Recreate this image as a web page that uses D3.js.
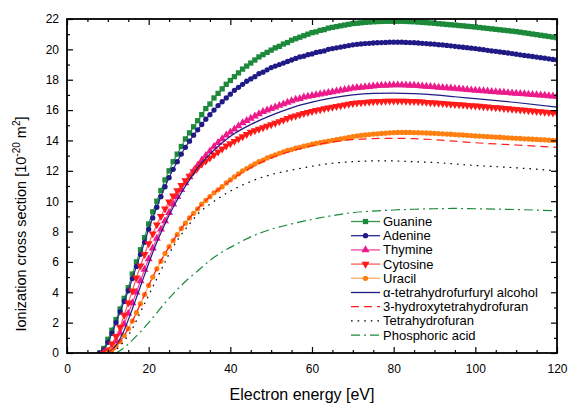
<!DOCTYPE html>
<html>
<head>
<meta charset="utf-8">
<script src="https://cdn.jsdelivr.net/npm/d3@7"></script>
<style>
	body { margin: 0; background: #fff; }
	text { font-family: "Liberation Sans", Arial, sans-serif; }
</style>
</head>
<body>
<div id="chart-area"></div>
<script>
// marker series, one value per eV starting at the given energy
var guanineStart = 8;
var guanine = [
	0, 0.3, 0.9, 1.5, 2.2, 2.9, 3.6, 4.3, 5.2, 6.0,
	6.8, 7.6, 8.5, 9.3, 10.0, 10.7, 11.4, 12.0, 12.6, 13.1,
	13.6, 14.1, 14.5, 14.9, 15.3, 15.7, 16.1, 16.4, 16.8, 17.1,
	17.4, 17.7, 17.95, 18.2, 18.45, 18.7, 18.9, 19.1, 19.3, 19.5,
	19.65, 19.8, 19.95, 20.1, 20.2, 20.35, 20.45, 20.6, 20.7, 20.8,
	20.9, 21.0, 21.1, 21.15, 21.25, 21.3, 21.4, 21.45, 21.5, 21.55,
	21.6, 21.65, 21.7, 21.72, 21.75, 21.78, 21.8, 21.82, 21.83, 21.84,
	21.85, 21.85, 21.85, 21.85, 21.85, 21.84, 21.83, 21.82, 21.8, 21.78,
	21.76, 21.74, 21.72, 21.69, 21.67, 21.64, 21.62, 21.6, 21.57, 21.55,
	21.52, 21.5, 21.47, 21.44, 21.41, 21.38, 21.35, 21.32, 21.29, 21.26,
	21.23, 21.2, 21.17, 21.13, 21.09, 21.05, 21.01, 20.97, 20.93, 20.89,
	20.85, 20.81, 20.77];

var adenineStart = 8;
var adenine = [
	0, 0.2, 0.7, 1.3, 2.0, 2.7, 3.4, 4.1, 4.9, 5.7,
	6.5, 7.3, 8.15, 8.9, 9.6, 10.3, 10.95, 11.55, 12.1, 12.6,
	13.1, 13.55, 13.95, 14.35, 14.7, 15.05, 15.4, 15.7, 16.0, 16.3,
	16.55, 16.8, 17.05, 17.3, 17.5, 17.7, 17.9, 18.05, 18.2, 18.4,
	18.5, 18.65, 18.8, 18.9, 19.0, 19.1, 19.2, 19.3, 19.4, 19.5,
	19.55, 19.65, 19.7, 19.8, 19.85, 19.9, 20.0, 20.05, 20.1, 20.15,
	20.2, 20.25, 20.3, 20.33, 20.36, 20.38, 20.4, 20.42, 20.44, 20.45,
	20.46, 20.47, 20.47, 20.47, 20.47, 20.46, 20.45, 20.44, 20.42, 20.4,
	20.38, 20.36, 20.34, 20.31, 20.29, 20.26, 20.23, 20.2, 20.17, 20.14,
	20.11, 20.08, 20.05, 20.01, 19.98, 19.94, 19.9, 19.87, 19.83, 19.8,
	19.76, 19.72, 19.68, 19.64, 19.6, 19.57, 19.53, 19.49, 19.45, 19.42,
	19.38, 19.34, 19.3];

var thymineStart = 9;
var thymine = [
	0, 0.1, 0.35, 0.8, 1.3, 1.9, 2.6, 3.3, 4.0, 4.75,
	5.5, 6.2, 6.9, 7.55, 8.15, 8.7, 9.25, 9.8, 10.3, 10.75,
	11.2, 11.6, 12.0, 12.35, 12.7, 13.0, 13.3, 13.6, 13.85, 14.1,
	14.35, 14.55, 14.75, 14.95, 15.15, 15.3, 15.45, 15.6, 15.75, 15.9,
	16.0, 16.1, 16.2, 16.3, 16.4, 16.5, 16.6, 16.7, 16.75, 16.85,
	16.9, 16.95, 17.0, 17.05, 17.1, 17.15, 17.2, 17.25, 17.3, 17.35,
	17.4, 17.45, 17.48, 17.5, 17.53, 17.55, 17.58, 17.6, 17.62, 17.63,
	17.64, 17.65, 17.65, 17.65, 17.64, 17.63, 17.62, 17.6, 17.58, 17.56,
	17.54, 17.52, 17.5, 17.48, 17.46, 17.44, 17.42, 17.39, 17.37, 17.35,
	17.32, 17.3, 17.28, 17.26, 17.24, 17.22, 17.2, 17.18, 17.16, 17.14,
	17.12, 17.1, 17.08, 17.06, 17.04, 17.02, 17.0, 16.98, 16.96, 16.94,
	16.92, 16.9];

var cytosineStart = 9;
var cytosine = [
	0, 0.2, 0.6, 1.1, 1.7, 2.5, 3.3, 4.1, 4.95, 5.75,
	6.5, 7.2, 7.85, 8.45, 9.0, 9.5, 9.95, 10.35, 10.7, 11.05,
	11.35, 11.65, 11.95, 12.2, 12.45, 12.65, 12.85, 13.05, 13.25, 13.45,
	13.65, 13.8, 13.95, 14.1, 14.25, 14.4, 14.55, 14.65, 14.75, 14.85,
	14.95, 15.05, 15.15, 15.25, 15.35, 15.45, 15.55, 15.62, 15.7, 15.78,
	15.85, 15.92, 15.98, 16.04, 16.1, 16.15, 16.2, 16.25, 16.3, 16.35,
	16.4, 16.45, 16.48, 16.5, 16.52, 16.54, 16.56, 16.57, 16.58, 16.59,
	16.6, 16.6, 16.6, 16.6, 16.59, 16.58, 16.57, 16.56, 16.54, 16.52,
	16.5, 16.48, 16.46, 16.44, 16.42, 16.4, 16.38, 16.36, 16.34, 16.32,
	16.3, 16.28, 16.26, 16.23, 16.21, 16.19, 16.17, 16.15, 16.12, 16.1,
	16.07, 16.05, 16.02, 16.0, 15.97, 15.95, 15.92, 15.9, 15.87, 15.85,
	15.82, 15.8];

var uracilStart = 10;
var uracil = [
	0, 0.2, 0.45, 0.75, 1.15, 1.6, 2.1, 2.65, 3.25, 3.85,
	4.45, 5.0, 5.55, 6.05, 6.55, 7.0, 7.4, 7.8, 8.2, 8.55,
	8.9, 9.2, 9.5, 9.8, 10.05, 10.3, 10.55, 10.75, 10.95, 11.2,
	11.4, 11.6, 11.8, 12.0, 12.15, 12.3, 12.45, 12.6, 12.7, 12.85,
	12.95, 13.05, 13.15, 13.25, 13.35, 13.4, 13.5, 13.55, 13.62, 13.68,
	13.75, 13.8, 13.85, 13.9, 13.95, 14.0, 14.05, 14.1, 14.15, 14.2,
	14.25, 14.3, 14.33, 14.36, 14.39, 14.42, 14.44, 14.46, 14.48, 14.5,
	14.52, 14.53, 14.53, 14.53, 14.53, 14.52, 14.51, 14.5, 14.49, 14.48,
	14.47, 14.45, 14.44, 14.42, 14.41, 14.39, 14.37, 14.36, 14.34, 14.32,
	14.3, 14.29, 14.27, 14.25, 14.24, 14.22, 14.21, 14.19, 14.17, 14.16,
	14.14, 14.13, 14.11, 14.1, 14.08, 14.07, 14.05, 14.04, 14.02, 14.01,
	14.0];

// line-only series
var thfaEnergy = [10, 12, 14, 16, 18, 20, 22, 24, 26, 28, 30, 32, 35, 38, 41, 45, 50, 55, 60, 65, 70, 75, 80, 85, 90, 95, 100, 110, 120];
var thfa = [0, 0.5, 1.5, 2.9, 4.4, 5.9, 7.3, 8.5, 9.6, 10.55, 11.4, 12.2, 13.1, 13.85, 14.45, 15.05, 15.65, 16.15, 16.52, 16.8, 17.0, 17.1, 17.12, 17.08, 17.0, 16.88, 16.75, 16.5, 16.2];

var hthfEnergy = [10, 12, 14, 16, 18, 20, 22, 24, 26, 28, 30, 32, 35, 38, 41, 45, 50, 55, 60, 65, 70, 75, 80, 85, 90, 95, 100, 110, 120];
var hthf = [0, 0.45, 1.15, 2.1, 3.25, 4.45, 5.55, 6.55, 7.4, 8.2, 8.9, 9.5, 10.3, 10.95, 11.55, 12.2, 12.85, 13.3, 13.65, 13.9, 14.05, 14.12, 14.14, 14.12, 14.05, 13.95, 13.85, 13.7, 13.55];

var thfEnergy = [11, 12, 14, 16, 18, 20, 22, 24, 26, 28, 30, 32, 35, 38, 41, 45, 50, 55, 60, 65, 70, 75, 80, 85, 90, 95, 100, 110, 120];
var thf = [0, 0.2, 0.8, 1.6, 2.7, 3.8, 4.9, 6.0, 7.0, 7.8, 8.5, 9.15, 9.8, 10.35, 10.8, 11.3, 11.75, 12.05, 12.3, 12.5, 12.6, 12.65, 12.65, 12.6, 12.55, 12.45, 12.35, 12.2, 12.0];

var phosEnergy = [12, 14, 16, 18, 20, 22, 24, 26, 28, 30, 32, 35, 38, 41, 45, 50, 55, 60, 65, 70, 75, 80, 85, 90, 95, 100, 110, 120];
var phos = [0, 0.35, 0.85, 1.4, 2.0, 2.65, 3.3, 3.9, 4.45, 4.95, 5.4, 6.1, 6.65, 7.1, 7.65, 8.15, 8.5, 8.8, 9.05, 9.25, 9.35, 9.42, 9.47, 9.5, 9.52, 9.5, 9.45, 9.37];

var legendNames = ["Guanine", "Adenine", "Thymine", "Cytosine", "Uracil",
	"\u03b1-tetrahydrofurfuryl alcohol", "3-hydroxytetrahydrofuran", "Tetrahydrofuran", "Phosphoric acid"];
var xTicks = [0, 20, 40, 60, 80, 100, 120];
var yTicks = [0, 2, 4, 6, 8, 10, 12, 14, 16, 18, 20, 22];

var W = 570, H = 403;
var margin = { top: 19, right: 13, bottom: 50, left: 67 };
var width = W - margin.left - margin.right;
var height = H - margin.top - margin.bottom;

var svg = d3.select("#chart-area")
	.append("svg")
	.attr("width", W)
	.attr("height", H)
	.append("g")
	.attr("transform", "translate(" + margin.left + ", " + margin.top + ")");

var xScale = d3.scaleLinear().domain([0, 120]).range([0, width]);
var yScale = d3.scaleLinear().domain([0, 22]).range([height, 0]);

function toPoints(start, values) {
	return values.map((v, i) => ({ e: start + i, v: v }));
}
function zipPoints(energies, values) {
	return values.map((v, i) => ({ e: energies[i], v: v }));
}

var series = [
	{ name: legendNames[0], pts: toPoints(guanineStart, guanine), color: "#1c8a3a", line: "#2f9a4c", symbol: d3.symbolSquare, size: 28 },
	{ name: legendNames[1], pts: toPoints(adenineStart, adenine), color: "#1f1a86", line: "#2a2595", symbol: d3.symbolCircle, size: 22 },
	{ name: legendNames[2], pts: toPoints(thymineStart, thymine), color: "#ec1b8c", line: "#f0479f", symbol: d3.symbolTriangle, size: 28, rot: 0 },
	{ name: legendNames[3], pts: toPoints(cytosineStart, cytosine), color: "#ff1a1a", line: "#ff5a5a", symbol: d3.symbolTriangle, size: 28, rot: 180 },
	{ name: legendNames[4], pts: toPoints(uracilStart, uracil), color: "#ff8010", line: "#ffae66", symbol: d3.symbolCircle, size: 22 },
	{ name: legendNames[5], pts: zipPoints(thfaEnergy, thfa), color: "#1f1a86", line: "#1f1a86", dash: null },
	{ name: legendNames[6], pts: zipPoints(hthfEnergy, hthf), color: "#ff2020", line: "#ff2020", dash: "8,5" },
	{ name: legendNames[7], pts: zipPoints(thfEnergy, thf), color: "#000", line: "#000", dash: "1.6,5" },
	{ name: legendNames[8], pts: zipPoints(phosEnergy, phos), color: "#1c8a3a", line: "#1c8a3a", dash: "9,4,2,4" }
];

svg.append("clipPath").attr("id", "clip")
	.append("rect").attr("x", 0).attr("y", -4).attr("width", width).attr("height", height + 4);

var plot = svg.append("g").attr("clip-path", "url(#clip)");

var line = d3.line()
	.x(d => xScale(d.e))
	.y(d => yScale(d.v))
	.curve(d3.curveMonotoneX);

series.forEach(s => {
	plot.append("path")
		.datum(s.pts)
		.attr("fill", "none")
		.attr("stroke", s.line)
		.attr("stroke-width", 1.2)
		.attr("stroke-dasharray", s.dash || null)
		.attr("d", line);
	if (s.symbol) {
		plot.selectAll(null)
			.data(s.pts)
			.enter().append("path")
			.attr("transform", d => "translate(" + xScale(d.e) + "," + yScale(d.v) + ")" + (s.rot ? " rotate(" + s.rot + ")" : ""))
			.attr("d", d3.symbol().type(s.symbol).size(s.size))
			.attr("fill", s.color);
	}
});

// axes: ticks point inward on all four sides
function styleAxis(g) {
	g.select(".domain").remove();
	g.selectAll("line").attr("stroke", "#000").attr("stroke-width", 1.2);
	g.selectAll("text").attr("font-size", "12px").attr("fill", "#000");
}
var minorX = d3.range(0, 121, 5).filter(d => d % 20 !== 0);
var minorY = d3.range(1, 22, 2);

svg.append("g").attr("transform", "translate(0," + height + ")")
	.call(d3.axisBottom(xScale).tickValues(xTicks).tickSize(-6).tickPadding(11)).call(styleAxis);
svg.append("g").attr("transform", "translate(0," + height + ")")
	.call(d3.axisBottom(xScale).tickValues(minorX).tickSize(-3).tickFormat("")).call(styleAxis);
svg.append("g")
	.call(d3.axisTop(xScale).tickValues(xTicks).tickSize(-6).tickFormat("")).call(styleAxis);
svg.append("g")
	.call(d3.axisTop(xScale).tickValues(minorX).tickSize(-3).tickFormat("")).call(styleAxis);
svg.append("g")
	.call(d3.axisLeft(yScale).tickValues(yTicks).tickSize(-6).tickPadding(8)).call(styleAxis);
svg.append("g")
	.call(d3.axisLeft(yScale).tickValues(minorY).tickSize(-3).tickFormat("")).call(styleAxis);
svg.append("g").attr("transform", "translate(" + width + ",0)")
	.call(d3.axisRight(yScale).tickValues(yTicks).tickSize(-6).tickFormat("")).call(styleAxis);
svg.append("g").attr("transform", "translate(" + width + ",0)")
	.call(d3.axisRight(yScale).tickValues(minorY).tickSize(-3).tickFormat("")).call(styleAxis);

svg.append("rect")
	.attr("width", width).attr("height", height)
	.attr("fill", "none").attr("stroke", "#000").attr("stroke-width", 1.8);

// axis titles
svg.append("text")
	.attr("x", width / 2 - 10)
	.attr("y", height + 47)
	.attr("text-anchor", "middle")
	.attr("font-size", "16px")
	.text("Electron energy [eV]");

var yt = svg.append("text")
	.attr("transform", "translate(" + (-41) + "," + (height / 2 + 38) + ") rotate(-90)")
	.attr("text-anchor", "middle")
	.attr("font-size", "14.5px");
yt.append("tspan").text("Ionization cross section [10");
yt.append("tspan").attr("dy", -6).attr("font-size", "10px").text("-20");
yt.append("tspan").attr("dy", 6).text(" m");
yt.append("tspan").attr("dy", -6).attr("font-size", "10px").text("2");
yt.append("tspan").attr("dy", 6).text("]");

// legend
var legend = svg.append("g").attr("transform", "translate(" + (351 - margin.left) + "," + (221.5 - margin.top) + ")");
series.forEach((s, i) => {
	var row = legend.append("g").attr("transform", "translate(0," + (i * 14.2) + ")");
	row.append("line")
		.attr("x1", 0).attr("x2", 29).attr("y1", 0).attr("y2", 0)
		.attr("stroke", s.line).attr("stroke-width", 1.3)
		.attr("stroke-dasharray", s.dash || null);
	if (s.symbol) {
		row.append("path")
			.attr("transform", "translate(14.5,0)" + (s.rot ? " rotate(" + s.rot + ")" : ""))
			.attr("d", d3.symbol().type(s.symbol).size(s.size))
			.attr("fill", s.color);
	}
	row.append("text")
		.attr("x", 32).attr("y", 4.5)
		.attr("font-size", "13px")
		.text(s.name);
});
</script>
</body>
</html>
